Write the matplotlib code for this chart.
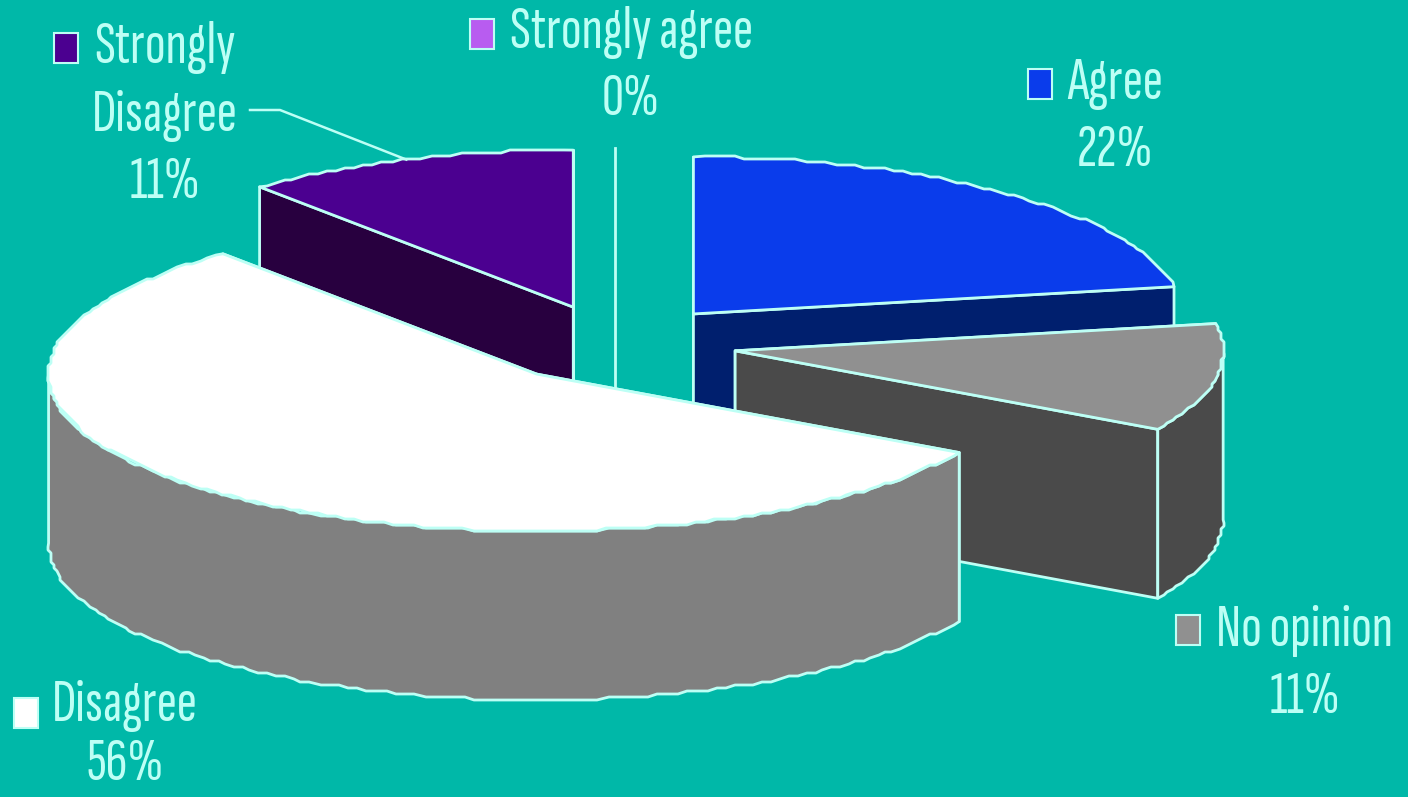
import numpy as np
import matplotlib
matplotlib.use("Agg")
import matplotlib.pyplot as plt
from matplotlib.patches import Polygon, Rectangle

# clockwise from 12 o'clock
categories = ["Strongly agree", "Agree", "No opinion", "Disagree", "Strongly\nDisagree"]
counts = [0, 2, 1, 5, 1]
top_colors = ["#B85CF0", "#0A3CEB", "#909090", "#FFFFFF", "#4B0090"]
wall_colors = ["#5C2E78", "#001F6E", "#4A4A4A", "#808080", "#28003F"]
label_pos = [(631, 66), (1115, 117), (1305, 664), (125, 735), (165, 115)]
label_gaps = [1.35, 1.35, 1.35, 1.15, 1.35]
key_pos = [(470, 19), (1028, 69), (1176, 615), (14, 698), (54, 33)]

BG = "#00B8A8"
EDGE = "#BDFFF5"
CX, CY = 615, 344      # pie centre in pixels
RX, RY = 488, 157      # ellipse of the top face
EXPLODE = 122
DEPTH = 169
SNAP = 3               # the source has a jagged, low-res outline

plt.rcParams["font.family"] = ["Sofia Sans Extra Condensed", "Fira Sans Extra Condensed",
                               "Liberation Sans", "DejaVu Sans"]

fig = plt.figure(figsize=(14.08, 7.97), dpi=100, facecolor=BG)
ax = fig.add_axes([0, 0, 1, 1])
ax.set_xlim(0, 1408)
ax.set_ylim(797, 0)
ax.axis("off")


def rim(ox, oy, a0, a1):
    """Points on the slice's outer edge, angles in degrees clockwise from top."""
    n = max(int(abs(a1 - a0) / 1.2), 1)
    t = np.radians(np.linspace(a0, a1, n + 1))
    x = ox + RX * np.sin(t)
    y = oy - RY * np.cos(t)
    pts = np.column_stack([x, y])
    inner = np.round(pts[1:-1] / SNAP) * SNAP
    return np.vstack([pts[:1], inner, pts[-1:]])


def add_poly(pts, face):
    ax.add_patch(Polygon(pts, closed=True, facecolor=face, edgecolor=EDGE,
                         linewidth=2, joinstyle="round"))


total = sum(counts)
fracs = np.array(counts) / total
ends = np.cumsum(fracs) * 360
starts = ends - fracs * 360
percents = [f"{round(f * 100)}%" for f in fracs]

# back slices first, Disagree sits on top of everything
order = [4, 0, 1, 2, 3]
for i in order:
    a0, a1 = starts[i], ends[i]
    mid = np.radians((a0 + a1) / 2)
    ox = CX + EXPLODE * np.sin(mid)
    oy = CY - EXPLODE * np.cos(mid) * RY / RX
    down = np.array([0, DEPTH])
    apex = np.array([ox, oy])

    if counts[i] == 0:
        # empty slice: only its edge shows
        end = rim(ox, oy, a0, a0)[0]
        ax.plot([ox, ox], [end[1], oy + DEPTH], color=EDGE, lw=2, zorder=1)
        continue

    for a in (a0, a1):
        p = rim(ox, oy, a, a)[0]
        add_poly([apex, p, p + down, apex + down], wall_colors[i])

    # only the front half of the outer wall is visible
    w0, w1 = max(a0, 90), min(a1, 270)
    if w1 > w0:
        arc = rim(ox, oy, w0, w1)
        add_poly(np.vstack([arc, (arc + down)[::-1]]), wall_colors[i])

    add_poly(np.vstack([apex, rim(ox, oy, a0, a1)]), top_colors[i])

# leader from the Strongly Disagree label
sd_mid = np.radians((starts[4] + ends[4]) / 2)
sd_x = CX + EXPLODE * np.sin(sd_mid)
sd_y = CY - EXPLODE * np.cos(sd_mid) * RY / RX
rim_pt = rim(sd_x, sd_y, 340, 340)[0]
ax.plot([250, 280, rim_pt[0]], [110, 110, rim_pt[1]], color=EDGE, lw=1.8)

for name, pct, (lx, ly), gap, (kx, ky), col in zip(categories, percents, label_pos, label_gaps, key_pos, top_colors):
    ax.add_patch(Rectangle((kx, ky), 24, 30, facecolor=col, edgecolor=EDGE, linewidth=1.5))
    ax.text(lx, ly, f"{name}\n{pct}", color=EDGE, fontsize=44, ha="center", va="center",
            linespacing=gap, multialignment="center")

fig.savefig("out.png", dpi=100, facecolor=BG)
